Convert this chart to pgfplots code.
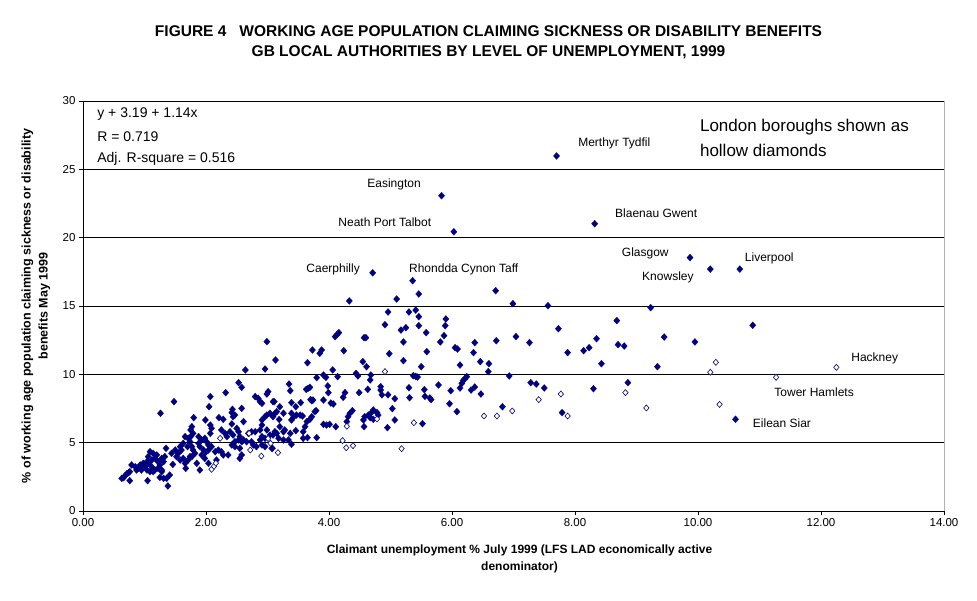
\documentclass[border=0pt]{standalone}
\usepackage{pgfplots}
\pgfplotsset{compat=1.18}
\usepackage{fontspec}
\setmainfont{Liberation Sans}
\definecolor{navy}{RGB}{0,0,128}
\begin{document}
\begin{tikzpicture}
\path[use as bounding box] (-83pt,-89pt) rectangle (894pt,511pt);
\begin{axis}[
  at={(0pt,0pt)}, anchor=south west,
  scale only axis, width=861pt, height=410pt,
  xmin=0, xmax=14, ymin=0, ymax=30,
  axis lines*=left,
  axis line style={black, line width=0.9pt},
  xtick={0,2,...,14}, ytick={0,5,...,30},
  tick align=outside, major tick length=4pt,
  tick style={black, line width=0.8pt},
  ymajorgrids, grid style={black, line width=0.9pt},
  /pgf/number format/assume math mode=true,
  xticklabel style={/pgf/number format/.cd, fixed, fixed zerofill, precision=2},
  ticklabel style={font=\fontsize{11.5}{13}\selectfont},
  clip=false,
]
\addplot[only marks, mark=diamond*, mark size=3.5pt, mark options={xscale=1.2, fill=navy, draw=navy, line width=0.2pt}] coordinates {
(1.48,8.00)(1.26,7.15)(1.66,5.44)(1.71,5.32)(1.74,5.07)(1.63,4.95)(1.70,4.71)(1.58,4.71)(1.60,4.46)(1.55,4.22)
(1.52,3.98)(1.58,3.73)(1.63,3.85)(1.66,3.49)(1.71,3.73)(1.74,3.98)(1.35,4.59)(1.50,4.46)(1.44,4.22)(1.09,4.34)
(1.14,4.22)(1.20,4.10)(1.17,3.85)(1.12,3.73)(1.06,3.98)(1.04,3.61)(1.22,3.61)(1.28,3.85)(1.31,3.61)(1.25,3.37)
(1.33,3.98)(0.98,3.49)(0.93,3.37)(0.90,3.12)(0.95,3.00)(1.01,3.24)(1.09,3.37)(1.14,3.12)(1.17,3.00)(1.22,3.12)
(1.28,3.00)(1.14,2.88)(1.09,2.88)(1.04,3.00)(0.79,3.37)(0.85,3.24)(0.87,3.00)(0.76,2.88)(0.74,2.80)(0.71,2.71)
(0.68,2.56)(0.66,2.44)(0.63,2.39)(0.76,2.22)(1.05,2.22)(1.28,2.88)(1.25,2.46)(1.31,2.39)(1.36,2.39)(1.41,2.63)
(1.46,3.41)(1.38,1.83)(1.67,3.12)
(2.53,9.39)(2.58,9.05)(2.07,8.37)(2.32,8.66)(2.05,7.63)(2.80,8.37)(2.85,8.24)(2.88,8.00)(2.91,7.88)(2.99,8.56)
(3.01,8.73)(3.09,8.00)(2.43,7.44)(2.42,7.20)(2.47,7.02)(2.44,6.90)(2.58,7.51)(1.80,6.83)(1.99,6.66)(2.21,6.83)
(2.28,6.71)(2.42,6.37)(2.61,6.54)(2.91,6.66)(2.96,6.90)(2.99,7.02)(3.04,7.15)(3.09,6.90)(2.91,6.29)(2.88,5.93)
(2.99,5.93)(1.77,6.17)(1.75,5.93)(1.79,5.68)(1.75,5.44)(1.88,5.44)(1.93,5.20)(1.98,5.32)(2.01,5.07)(1.88,4.95)
(2.07,6.29)(2.09,6.05)(2.07,5.68)(2.25,5.93)(2.31,5.68)(2.34,5.44)(2.39,5.80)(2.44,5.56)(2.50,6.05)(2.53,5.80)
(2.55,5.44)(2.53,5.20)(2.58,5.07)(2.47,5.07)(2.69,5.68)(2.74,5.80)(2.80,5.80)(2.61,5.20)(2.66,5.07)(2.74,5.07)
(2.77,4.83)(2.91,5.44)(2.88,5.20)(2.96,5.32)(3.04,5.56)(1.77,4.71)(1.79,4.46)(1.82,4.22)(1.77,3.98)(1.90,4.71)
(1.96,4.46)(1.98,4.22)(1.93,4.10)(2.04,4.46)(2.04,4.83)(2.09,4.71)(2.15,4.34)(2.20,4.46)(2.25,4.34)(2.28,4.10)
(2.36,4.10)(2.42,4.83)(2.47,4.71)(2.55,4.59)(2.58,4.10)(2.55,3.85)(2.82,4.71)(2.91,4.83)(2.96,4.71)(3.07,4.59)
(1.85,3.49)(1.90,3.00)(1.98,3.85)(2.04,3.49)(2.17,3.73)(2.99,12.39)(2.64,10.32)(2.96,10.39)
(3.13,11.05)(3.35,9.29)(3.37,8.80)(3.63,8.90)(3.66,8.97)(3.69,9.05)(3.98,9.15)(3.99,8.66)(4.26,8.66)(4.23,8.32)
(4.49,8.66)(3.11,8.00)(3.20,7.63)(3.39,7.93)(3.46,7.63)(3.54,7.93)(3.70,8.15)(3.72,8.07)(3.74,8.12)(3.91,8.12)
(4.03,7.90)(4.07,7.83)(3.12,7.15)(3.15,7.27)(3.19,6.70)(3.26,7.15)(3.39,7.15)(3.42,6.85)(3.39,6.66)(3.47,7.02)
(3.53,7.02)(3.57,6.95)(3.64,6.54)(3.69,6.71)(3.72,6.90)(3.77,7.27)(3.79,7.34)(3.61,6.17)(3.58,5.80)(3.91,6.34)
(3.96,6.29)(4.01,6.34)(4.11,6.17)(4.29,6.54)(4.31,6.90)(4.34,7.15)(4.38,7.34)(3.12,5.80)(3.15,5.68)(3.09,5.56)
(3.20,6.17)(3.28,5.93)(3.26,5.80)(3.18,5.32)(3.37,5.68)(3.34,5.20)(3.26,5.20)(3.39,4.88)(3.46,5.88)(3.58,5.32)
(3.65,5.37)(3.80,5.37)(3.08,4.59)
(4.84,9.10)(4.84,8.85)(4.86,8.50)(4.96,8.50)(5.07,8.22)(5.30,9.02)(5.31,8.29)(5.55,8.88)(5.56,8.39)(5.64,8.27)
(5.66,8.15)(5.78,9.22)(5.98,8.80)(5.96,7.85)(6.08,7.27)(5.03,7.49)(4.56,6.66)(4.58,6.90)(4.64,7.02)(4.69,7.20)
(4.72,7.39)(4.78,7.20)(4.67,6.83)(4.72,6.71)(4.80,7.02)(4.57,6.17)(4.95,6.10)(5.07,6.66)(5.52,6.39)(4.63,8.90)
(5.10,15.51)(5.46,15.88)(4.96,14.56)(5.30,14.56)(5.41,14.70)(5.46,14.22)(4.91,13.63)(5.17,13.24)(5.25,13.41)(5.46,13.56)
(5.90,14.05)(5.89,13.56)(5.58,13.05)(5.87,12.83)(5.81,12.37)(4.57,12.68)(4.60,12.68)(5.21,12.37)(6.05,11.95)(6.09,11.85)
(5.59,11.66)(4.98,11.51)(5.21,11.00)(4.55,10.93)(4.61,10.56)(5.50,10.56)(4.68,9.95)(4.67,9.59)(5.37,9.90)(5.41,9.85)
(5.44,9.80)
(4.33,15.37)(4.10,12.76)(4.13,12.90)(4.16,13.05)(3.73,11.78)(3.85,11.54)(3.88,11.78)(4.24,11.73)(3.65,10.85)(4.06,10.32)
(3.91,9.95)(3.95,9.78)(3.80,9.76)(4.14,9.83)(4.44,10.07)(4.47,9.88)
(4.71,17.43)(5.36,16.85)(5.83,23.07)(6.03,20.43)
(7.70,25.98)(8.32,21.02)(6.71,16.12)(6.99,15.17)(7.56,15.02)(9.23,14.88)(8.68,13.93)(7.73,13.34)(7.04,12.76)(6.72,12.46)
(6.37,12.32)(7.26,12.32)(8.35,12.61)(8.70,12.17)(8.80,12.07)(6.35,11.59)(7.88,11.59)(8.14,11.73)(8.23,11.95)(6.46,10.93)
(6.60,10.78)(6.59,10.20)(6.13,10.68)(8.43,10.78)(9.34,10.56)(6.24,9.83)(6.21,9.68)(6.18,9.54)(6.16,9.34)(6.93,9.88)
(6.13,9.00)(6.31,8.85)(6.37,9.07)(6.47,8.56)(7.28,9.39)(7.37,9.29)(7.50,9.00)(8.30,8.95)(8.86,9.39)(6.82,7.63)
(7.79,7.20)
(9.87,18.54)(10.20,17.70)(10.68,17.70)(10.89,13.59)(9.45,12.73)(9.95,12.37)(10.61,6.71)
};
\addplot[only marks, mark=diamond*, mark size=3.0pt, mark options={xscale=1.2, fill=white, draw=navy, line width=0.6pt}] coordinates {
(2.09,3.05)(2.13,3.27)(2.16,3.50)(2.23,5.32)(2.72,4.46)(2.90,4.02)(3.17,4.27)(2.70,5.68)(3.01,5.30)(3.05,4.95)
(4.29,6.20)(4.22,5.15)(4.28,4.63)(4.39,4.78)(4.91,10.20)(4.78,6.73)(5.38,6.46)(5.18,4.56)
(6.52,6.95)(6.73,6.95)(6.98,7.32)(7.41,8.15)(7.77,8.56)(7.88,6.95)(8.82,8.66)(9.16,7.54)
(10.29,10.88)(10.20,10.15)(12.25,10.51)(11.27,9.78)(10.35,7.80)
};
\draw[gray!60, line width=0.9pt] (rel axis cs:1,0) -- (rel axis cs:1,1);
% point labels
\begin{scope}[every node/.style={anchor=west, inner sep=0pt, font=\fontsize{12}{14}\selectfont}]
\node at (axis cs:8.05,26.92) {Merthyr Tydfil};
\node at (axis cs:4.62,23.92) {Easington};
\node at (axis cs:4.15,21.14) {Neath Port Talbot};
\node at (axis cs:8.65,21.80) {Blaenau Gwent};
\node at (axis cs:8.76,18.87) {Glasgow};
\node at (axis cs:10.76,18.50) {Liverpool};
\node at (axis cs:9.09,17.10) {Knowsley};
\node at (axis cs:3.63,17.70) {Caerphilly};
\node at (axis cs:5.30,17.70) {Rhondda Cynon Taff};
\node at (axis cs:12.49,11.19) {Hackney};
\node at (axis cs:11.24,8.71) {Tower Hamlets};
\node at (axis cs:10.89,6.44) {Eilean Siar};
\end{scope}
\begin{scope}[every node/.style={anchor=west, inner sep=0pt, font=\fontsize{14}{16}\selectfont}]
\node at (axis cs:0.23,29.04) {y + 3.19 + 1.14x};
\node at (axis cs:0.23,27.36) {R = 0.719};
\node at (axis cs:0.23,25.75) {Adj. R-square = 0.516};
\end{scope}
\begin{scope}[every node/.style={anchor=west, inner sep=0pt, font=\fontsize{17}{20}\selectfont}]
\node at (axis cs:10.03,28.09) {London boroughs shown as};
\node at (axis cs:10.03,26.41) {hollow diamonds};
\end{scope}
% titles and axis labels
\node[font=\bfseries\fontsize{15.5}{20}\selectfont, align=center] at ([yshift=59pt]rel axis cs:0.471,1) {FIGURE 4\ \ \ WORKING AGE POPULATION CLAIMING SICKNESS OR DISABILITY BENEFITS\\GB LOCAL AUTHORITIES BY LEVEL OF UNEMPLOYMENT, 1999};
\node[font=\bfseries\fontsize{12}{17}\selectfont, align=center] at ([yshift=-48pt]rel axis cs:0.507,0) {Claimant unemployment \% July 1999 (LFS LAD economically active\\denominator)};
\node[font=\bfseries\fontsize{12.5}{17}\selectfont, align=center, rotate=90] at ([xshift=-47pt]rel axis cs:0,0.5) {\% of working age population claiming sickness or disability\\benefits May 1999};
\end{axis}
\end{tikzpicture}
\end{document}
